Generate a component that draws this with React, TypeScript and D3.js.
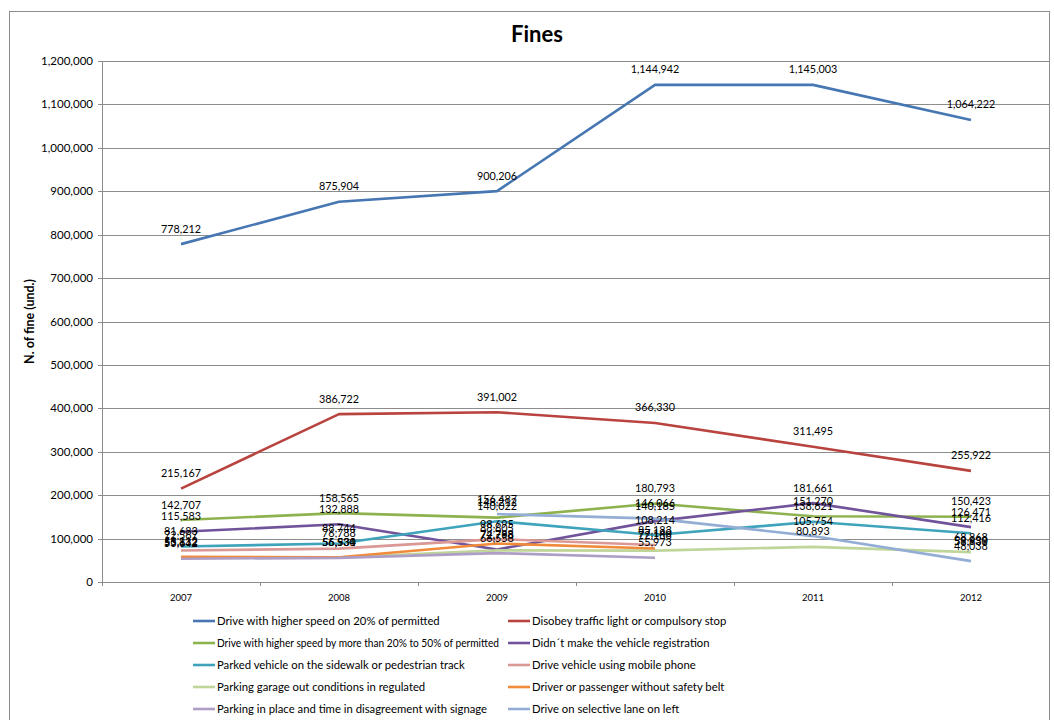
import React from "react";
import * as d3 from "d3";

// Fines issued per year, by type of offence
const years = ["2007", "2008", "2009", "2010", "2011", "2012"];

const speed20 = [778212, 875904, 900206, 1144942, 1145003, 1064222];
const disobeyLight = [215167, 386722, 391002, 366330, 311495, 255922];
const speed20to50 = [142707, 158565, 148212, 180793, 151270, 150423];
const noRegistration = [115583, 132888, 74788, 140185, 181661, 126471];
const parkedSidewalk = [81683, 88744, 140022, 108214, 138621, 112416];
const mobilePhone: (number | null)[] = [72567, 76788, 98695, 85183, null, 59630];
const garageParking = [55832, 56534, 72798, 72188, 80893, 68868];
const seatBelt: (number | null)[] = [58112, 56930, 88605, 77140, null, 58939];
const signageParking: (number | null)[] = [53642, 55531, 66558, 55973, null, null];
const selectiveLane: (number | null)[] = [null, null, 156487, 146066, 105754, 48038];

const yTicks = [0, 100000, 200000, 300000, 400000, 500000, 600000, 700000, 800000, 900000, 1000000, 1100000, 1200000];

const seriesNames = [
  "Drive with higher speed on 20% of permitted",
  "Disobey traffic  light or compulsory stop",
  "Drive with higher speed by more than 20% to 50% of permitted",
  "Didn´t make the vehicle registration",
  "Parked vehicle on the sidewalk or pedestrian track",
  "Drive vehicle using mobile  phone",
  "Parking garage  out conditions in regulated",
  "Driver or passenger without  safety belt",
  "Parking in place and time in disagreement with signage",
  "Drive on selective lane on left",
];

const seriesValues = [
  speed20,
  disobeyLight,
  speed20to50,
  noRegistration,
  parkedSidewalk,
  mobilePhone,
  garageParking,
  seatBelt,
  signageParking,
  selectiveLane,
];

const seriesColors = [
  "#4777B3",
  "#B9433F",
  "#8DB24E",
  "#70539A",
  "#3FA3BB",
  "#DA9896",
  "#BFD59A",
  "#EF8B3B",
  "#AE9EC6",
  "#93ADD5",
];

const FONT = "Lato, 'Liberation Sans', sans-serif";

export default function App() {
  const width = 1054;
  const height = 720;
  const plot = { left: 102, right: 1050, top: 61, bottom: 582 };

  const x = d3
    .scaleBand<string>()
    .domain(years)
    .range([plot.left, plot.right]);
  const y = d3.scaleLinear().domain([0, 1200000]).range([plot.bottom, plot.top]);
  const fmt = d3.format(",");

  const cx = (i: number) => (x(years[i]) as number) + x.bandwidth() / 2;

  const line = d3
    .line<number | null>()
    .defined((d) => d !== null)
    .x((_, i) => cx(i))
    .y((d) => y(d as number));

  const legendX = [193, 508];
  const legendY0 = 621;
  const legendDy = 22;
  const legendFont = 11.3;
  // the first column's long entry is squeezed so it stays clear of the second column
  const legendMaxWidth = 282;

  return (
    <svg
      width={width}
      height={height}
      style={{ position: "absolute", left: 0, top: 0, background: "#fff" }}
      fontFamily={FONT}
    >
      {/* chart frame */}
      <rect x={9.5} y={11.5} width={1040} height={760} fill="#fff" stroke="#8c8c8c" strokeWidth={1} />

      <text x={537} y={42} textAnchor="middle" fontSize={22} fontWeight="bold" fill="#000">
        Fines
      </text>

      {/* horizontal gridlines and y tick labels */}
      {yTicks.map((t) => (
        <g key={t}>
          <line
            x1={plot.left}
            x2={plot.right}
            y1={Math.round(y(t)) + 0.5}
            y2={Math.round(y(t)) + 0.5}
            stroke="#8c8c8c"
            strokeWidth={1}
          />
          <line
            x1={plot.left - 4}
            x2={plot.left}
            y1={Math.round(y(t)) + 0.5}
            y2={Math.round(y(t)) + 0.5}
            stroke="#8c8c8c"
          />
          <text x={plot.left - 9} y={y(t) + 4} textAnchor="end" fontSize={11.5} fill="#000">
            {fmt(t)}
          </text>
        </g>
      ))}

      {/* value axis */}
      <line x1={plot.left + 0.5} x2={plot.left + 0.5} y1={plot.top} y2={plot.bottom} stroke="#8c8c8c" />

      {/* category ticks and labels */}
      {years.map((yr, i) => (
        <g key={yr}>
          <line
            x1={Math.round(x(yr) as number) + 0.5}
            x2={Math.round(x(yr) as number) + 0.5}
            y1={plot.bottom}
            y2={plot.bottom + 4}
            stroke="#8c8c8c"
          />
          <text x={cx(i)} y={plot.bottom + 19} textAnchor="middle" fontSize={9.5} fill="#000">
            {yr}
          </text>
        </g>
      ))}

      <text
        transform={`translate(34, ${(plot.top + plot.bottom) / 2}) rotate(-90)`}
        textAnchor="middle"
        fontSize={12.5}
        fontWeight="bold"
        fill="#000"
      >
        N. of fine (und.)
      </text>

      {/* series lines */}
      {seriesValues.map((vals, s) => (
        <path
          key={seriesNames[s]}
          d={line(vals) || ""}
          fill="none"
          stroke={seriesColors[s]}
          strokeWidth={2.6}
          strokeLinejoin="round"
        />
      ))}

      {/* data labels above each point */}
      {seriesValues.map((vals, s) =>
        vals.map((v, i) =>
          v === null ? null : (
            <text
              key={`${s}-${i}`}
              x={cx(i)}
              y={y(v) - 11.5}
              textAnchor="middle"
              fontSize={10.8}
              fill="#000"
            >
              {fmt(v)}
            </text>
          )
        )
      )}

      {/* legend, two columns */}
      {seriesNames.map((name, s) => {
        const col = s % 2;
        const row = Math.floor(s / 2);
        const lx = legendX[col];
        const ly = legendY0 + row * legendDy;
        const long = col === 0 && name.length > 55;
        return (
          <g key={name}>
            <line x1={lx} x2={lx + 22} y1={ly} y2={ly} stroke={seriesColors[s]} strokeWidth={2.6} />
            <text
              x={lx + 24}
              y={ly + 4}
              fontSize={legendFont}
              fill="#000"
              {...(long ? { textLength: legendMaxWidth, lengthAdjust: "spacingAndGlyphs" } : {})}
            >
              {name}
            </text>
          </g>
        );
      })}
    </svg>
  );
}
